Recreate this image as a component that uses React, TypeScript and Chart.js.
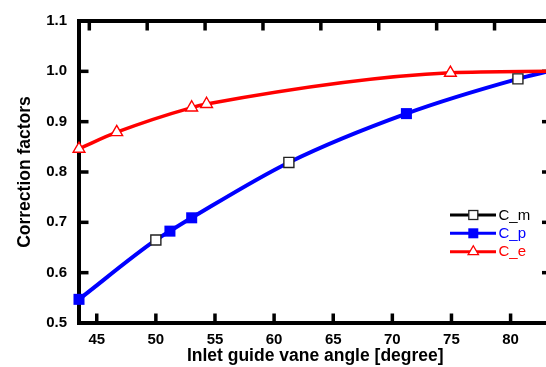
import React, { useEffect, useRef } from 'react';
import { Chart, registerables } from 'chart.js';

Chart.register(...registerables);

const FONT = '"Liberation Sans", Arial, Helvetica, sans-serif';

// axes
const xTickValues = [45, 50, 55, 60, 65, 70, 75, 80];
const yTickValues = [0.5, 0.6, 0.7, 0.8, 0.9, 1.0, 1.1];
const xRange = [43.5, 83.46];
const topAxisRange = [44.11, 84.92];
const yRange = [0.5, 1.1];
const xTitle = 'Inlet guide vane angle [degree]';
const yTitle = 'Correction factors';

// series
const seriesNames = ['C_m', 'C_p', 'C_e'];
const cmAngle = [50.0, 61.25, 80.62];
const cmValue = [0.665, 0.819, 0.985];
const cpAngle = [43.5, 51.19, 53.03, 71.19];
const cpValue = [0.547, 0.6825, 0.709, 0.916];
const ceAngle = [43.5, 46.69, 53.03, 54.29, 74.91];
const ceValue = [0.846, 0.879, 0.928, 0.935, 0.997];
const curveEndAngle = 83.2;
const curveEndValue = 1.0;

const BLUE = '#0000ff';
const RED = '#ff0000';

const pts = (xs: number[], ys: number[]) => xs.map((x, i) => ({ x, y: ys[i] }));

function drawMarker(ctx: CanvasRenderingContext2D, kind: string, x: number, y: number) {
  ctx.save();
  if (kind === 'open-square') {
    ctx.fillStyle = '#fff';
    ctx.strokeStyle = '#222';
    ctx.lineWidth = 1.3;
    ctx.fillRect(x - 4.5, y - 4.5, 9, 9);
    ctx.strokeRect(x - 4.5, y - 4.5, 9, 9);
  } else if (kind === 'filled-square') {
    ctx.fillStyle = BLUE;
    ctx.fillRect(x - 5, y - 5, 10, 10);
  } else {
    const r = 6;
    ctx.beginPath();
    for (let k = 0; k < 3; k++) {
      const a = (k * 2 * Math.PI) / 3;
      const px = x + Math.sin(a) * r;
      const py = y - Math.cos(a) * r;
      if (k === 0) ctx.moveTo(px, py);
      else ctx.lineTo(px, py);
    }
    ctx.closePath();
    ctx.fillStyle = '#fff';
    ctx.fill();
    ctx.strokeStyle = RED;
    ctx.lineWidth = 1.3;
    ctx.stroke();
  }
  ctx.restore();
}

const framePlugin = {
  id: 'frame',
  beforeDatasetsDraw(chart: any) {
    const { ctx, chartArea: a, scales } = chart;
    ctx.save();
    ctx.strokeStyle = '#000';
    ctx.lineCap = 'butt';
    const L = 9.5;
    const seg = (x1: number, y1: number, x2: number, y2: number) => {
      ctx.beginPath();
      ctx.moveTo(x1, y1);
      ctx.lineTo(x2, y2);
      ctx.stroke();
    };
    ctx.lineWidth = 3.5;
    xTickValues.forEach((v) => {
      const p = scales.x.getPixelForValue(v);
      seg(p, a.bottom, p, a.bottom - L);
      const q = scales.x2.getPixelForValue(v);
      seg(q, a.top, q, a.top + L);
    });
    yTickValues.forEach((v) => {
      const p = scales.y.getPixelForValue(v);
      seg(a.left, p, a.left + L, p);
      const q = scales.y2.getPixelForValue(v);
      seg(a.right, q, a.right - L, q);
    });
    ctx.lineWidth = 4;
    ctx.lineJoin = 'miter';
    ctx.strokeRect(a.left, a.top, a.right - a.left, a.bottom - a.top);
    ctx.restore();
  },
};

const legendPlugin = {
  id: 'customLegend',
  afterDraw(chart: any) {
    const { ctx } = chart;
    const colors = ['#000', BLUE, RED];
    const kinds = ['open-square', 'filled-square', 'triangle'];
    const rows = [215, 233.3, 251.7];
    ctx.save();
    seriesNames.forEach((name, i) => {
      const y = rows[i];
      ctx.strokeStyle = colors[i];
      ctx.lineWidth = 3;
      ctx.beginPath();
      ctx.moveTo(450, y);
      ctx.lineTo(496, y);
      ctx.stroke();
      drawMarker(ctx, kinds[i], 473.3, y);
      ctx.fillStyle = colors[i];
      ctx.font = `15px ${FONT}`;
      ctx.textAlign = 'left';
      ctx.textBaseline = 'middle';
      ctx.fillText(name, 498.5, y + 0.5);
    });
    ctx.restore();
  },
};

export default function App() {
  const ref = useRef<HTMLCanvasElement | null>(null);

  useEffect(() => {
    if (!ref.current) return;
    const end = { x: curveEndAngle, y: curveEndValue };
    const blueCurve = [...pts(cpAngle, cpValue), ...pts(cmAngle, cmValue)]
      .sort((a, b) => a.x - b.x)
      .concat(end);
    const redCurve = pts(ceAngle, ceValue).concat(end);

    const chart = new Chart(ref.current, {
      type: 'line',
      data: {
        datasets: [
          {
            label: seriesNames[0],
            data: pts(cmAngle, cmValue),
            showLine: false,
            pointStyle: 'rect',
            pointRadius: 7.1,
            pointBackgroundColor: '#fff',
            pointBorderColor: '#222',
            pointBorderWidth: 1.4,
            order: 0,
            clip: false,
          } as any,
          {
            label: seriesNames[1],
            data: pts(cpAngle, cpValue),
            showLine: false,
            pointStyle: 'rect',
            pointRadius: 7.8,
            pointBackgroundColor: BLUE,
            pointBorderColor: BLUE,
            pointBorderWidth: 0,
            order: 1,
            clip: false,
          },
          {
            label: seriesNames[2],
            data: redCurve,
            borderColor: RED,
            borderWidth: 3.5,
            cubicInterpolationMode: 'monotone',
            pointStyle: 'triangle',
            pointRadius: redCurve.map((_, i) => (i < ceAngle.length ? 6.8 : 0)),
            pointBackgroundColor: '#fff',
            pointBorderColor: RED,
            pointBorderWidth: 1.4,
            order: 2,
            clip: false,
          },
          {
            label: 'curve',
            data: blueCurve,
            borderColor: BLUE,
            borderWidth: 4,
            cubicInterpolationMode: 'monotone',
            pointRadius: 0,
            order: 3,
            clip: false,
          },
        ],
      },
      options: {
        responsive: false,
        maintainAspectRatio: false,
        devicePixelRatio: 1,
        animation: false,
        parsing: true,
        layout: { padding: 0 },
        plugins: { legend: { display: false }, tooltip: { enabled: false } },
        scales: {
          x: {
            type: 'linear',
            position: 'bottom',
            min: xRange[0],
            max: xRange[1],
            grid: { display: false, drawTicks: false, tickLength: 0 },
            border: { display: false },
            afterBuildTicks: (s: any) => {
              s.ticks = xTickValues.map((v) => ({ value: v }));
            },
            afterFit: (s: any) => {
              s.height = 44;
            },
            ticks: {
              padding: 8,
              color: '#000',
              font: { family: FONT, size: 15, weight: 'bold' },
              callback: (v: any) => String(v),
              maxRotation: 0,
            },
            title: {
              display: true,
              text: xTitle,
              color: '#000',
              font: { family: FONT, size: 17.5, weight: 'bold' },
              padding: { top: 0, bottom: 0 },
            },
          },
          x2: {
            type: 'linear',
            position: 'top',
            min: topAxisRange[0],
            max: topAxisRange[1],
            grid: { display: false, drawTicks: false, tickLength: 0 },
            border: { display: false },
            ticks: { display: false },
            afterBuildTicks: (s: any) => {
              s.ticks = xTickValues.map((v) => ({ value: v }));
            },
            afterFit: (s: any) => {
              s.height = 20.5;
            },
          },
          y: {
            type: 'linear',
            position: 'left',
            min: yRange[0],
            max: yRange[1],
            grid: { display: false, drawTicks: false, tickLength: 0 },
            border: { display: false },
            afterBuildTicks: (s: any) => {
              s.ticks = yTickValues.map((v) => ({ value: v }));
            },
            afterFit: (s: any) => {
              s.width = 79;
            },
            ticks: {
              padding: 12,
              color: '#000',
              font: { family: FONT, size: 15, weight: 'bold' },
              callback: (v: any) => Number(v).toFixed(1),
            },
            title: {
              display: true,
              text: yTitle,
              color: '#000',
              font: { family: FONT, size: 17.5, weight: 'bold' },
              padding: { top: 15, bottom: 0 },
            },
          },
          y2: {
            type: 'linear',
            position: 'right',
            min: yRange[0],
            max: yRange[1],
            grid: { display: false, drawTicks: false, tickLength: 0 },
            border: { display: false },
            ticks: { display: false },
            afterBuildTicks: (s: any) => {
              s.ticks = yTickValues.map((v) => ({ value: v }));
            },
            afterFit: (s: any) => {
              s.width = 8;
            },
          },
        },
      } as any,
      plugins: [framePlugin, legendPlugin],
    });
    return () => chart.destroy();
  }, []);

  return (
    <div
      style={{
        position: 'fixed',
        left: 0,
        top: 0,
        width: 546,
        height: 367,
        overflow: 'hidden',
        background: '#fff',
      }}
    >
      <canvas ref={ref} width={560} height={367} style={{ display: 'block', width: 560, height: 367 }} />
    </div>
  );
}
